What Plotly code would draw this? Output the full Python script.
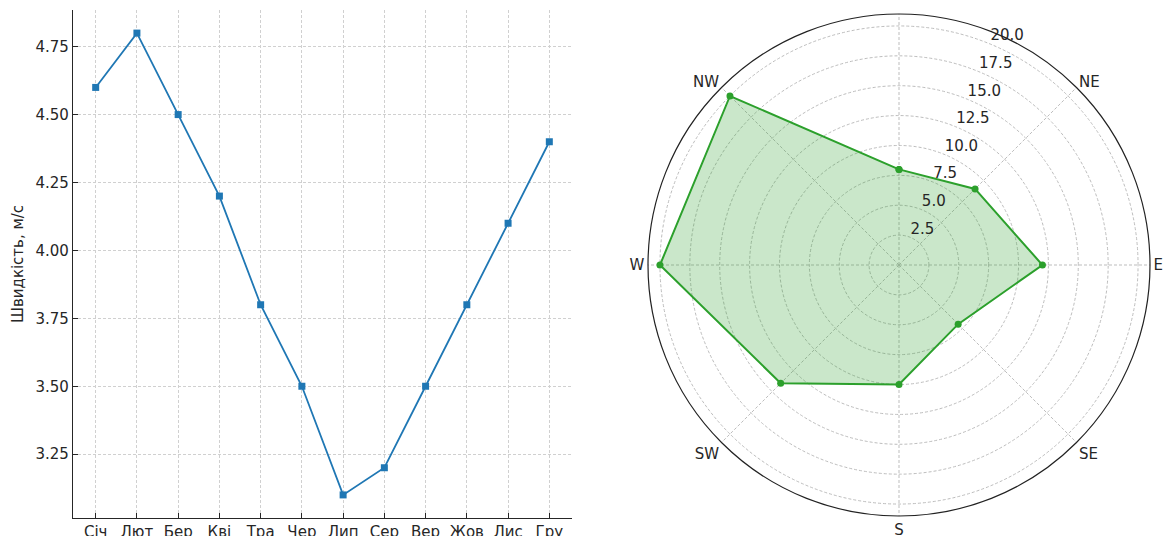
import plotly.graph_objects as go

months = ["Січ", "Лют", "Бер", "Кві", "Тра", "Чер", "Лип", "Сер", "Вер", "Жов", "Лис", "Гру"]
speed = [4.6, 4.8, 4.5, 4.2, 3.8, 3.5, 3.1, 3.2, 3.5, 3.8, 4.1, 4.4]

directions = ["", "NE", "E", "SE", "S", "SW", "W", "NW"]
dir_angles = [0, 45, 90, 135, 180, 225, 270, 315]
freq = [8, 9, 12, 7, 10, 14, 20, 20]

y_ticks = [3.25, 3.5, 3.75, 4.0, 4.25, 4.5, 4.75]
r_ticks = [2.5, 5.0, 7.5, 10.0, 12.5, 15.0, 17.5, 20.0]
r_label_angle = 22.5

FONT = "DejaVu Sans"
TXT = "#262626"
GRID = "#d0d0d0"
PGRID = "#bdbdbd"
DASH = "3px,2px"

fig = go.Figure()

fig.add_trace(go.Scatter(
    x=list(range(len(months))), y=speed, mode="lines+markers",
    line=dict(color="#1f77b4", width=1.8),
    marker=dict(symbol="square", size=7, color="#1f77b4"),
    xaxis="x", yaxis="y", showlegend=False,
))

fig.add_trace(go.Scatterpolar(
    theta=dir_angles + [dir_angles[0]], r=freq + [freq[0]],
    mode="lines+markers", fill="toself",
    fillcolor="rgba(44,160,44,0.25)",
    line=dict(color="#2ca02c", width=2),
    marker=dict(size=7, color="#2ca02c"),
    subplot="polar", showlegend=False,
))

# radial tick labels placed like matplotlib's (left/bottom aligned at the tick)
fig.add_trace(go.Scatterpolar(
    theta=[r_label_angle] * len(r_ticks), r=r_ticks,
    mode="text", text=[f"{v:.1f}" for v in r_ticks],
    textposition="top right",
    textfont=dict(family=FONT, size=15, color=TXT),
    subplot="polar", showlegend=False, hoverinfo="skip",
))

W, H = 1175, 536

fig.update_layout(
    width=W, height=H,
    margin=dict(l=0, r=0, t=0, b=0),
    paper_bgcolor="white", plot_bgcolor="white",
    font=dict(family=FONT, size=15, color=TXT),
    xaxis=dict(
        domain=[73 / W, 572 / W],
        range=[-0.55, 11.55],
        tickmode="array", tickvals=list(range(len(months))), ticktext=months,
        ticks="inside", ticklen=5, tickcolor=TXT,
        showline=True, linecolor=TXT, linewidth=1.2,
        showgrid=True, gridcolor=GRID, griddash=DASH, gridwidth=0.8,
        zeroline=False, anchor="y", ticklabelstandoff=0, automargin=False,
        tickfont=dict(size=15),
    ),
    yaxis=dict(
        domain=[18 / H, 526 / H],
        range=[3.015, 4.885],
        tickmode="array", tickvals=y_ticks, ticktext=[f"{v:.2f}" for v in y_ticks],
        ticks="inside", ticklen=5, tickcolor=TXT,
        showline=True, linecolor=TXT, linewidth=1.2,
        showgrid=True, gridcolor=GRID, griddash=DASH, gridwidth=0.8,
        zeroline=False, anchor="x", automargin=False,
        title=dict(text="Швидкість, м/с", font=dict(size=15), standoff=8),
        tickfont=dict(size=15),
    ),
    polar=dict(
        domain=dict(x=[648 / W, 1150 / W], y=[(H - 516) / H, (H - 14) / H]),
        bgcolor="white",
        angularaxis=dict(
            rotation=90, direction="clockwise",
            tickmode="array", tickvals=dir_angles, ticktext=directions,
            showline=True, linecolor="#222222", linewidth=1.2,
            showgrid=True, gridcolor=PGRID, griddash=DASH, gridwidth=0.8,
            ticks="", tickfont=dict(size=15),
        ),
        radialaxis=dict(
            range=[0, 21],
            tickmode="array", tickvals=r_ticks,
            showline=False, ticks="", showticklabels=False,
            showgrid=True, gridcolor=PGRID, griddash=DASH, gridwidth=0.8,
        ),
    ),
)

fig.write_html("out.html")
